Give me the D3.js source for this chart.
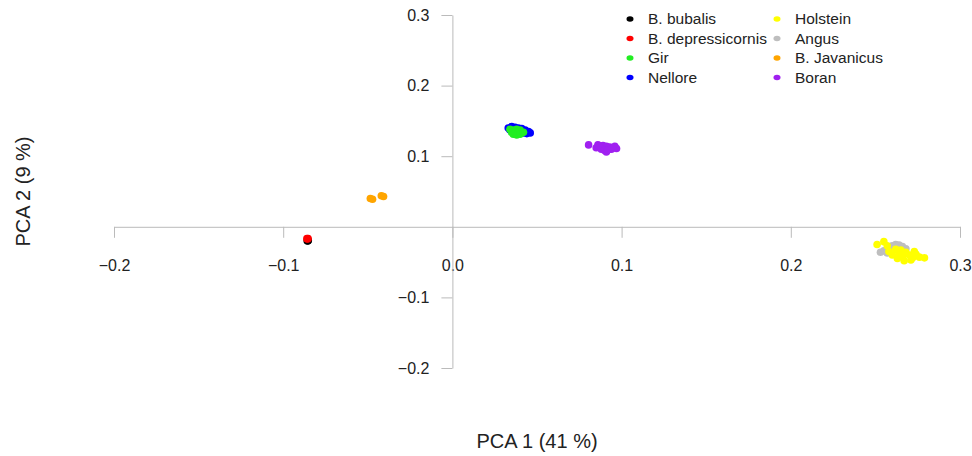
<!DOCTYPE html>
<html>
<head>
<meta charset="utf-8">
<script src="https://cdn.jsdelivr.net/npm/d3@7"></script>
<style>
  body { margin: 0; background: #fff; }
  text { font-family: "Liberation Sans", Arial, sans-serif; }
</style>
</head>
<body>
<svg id="chart"></svg>
<script>
// breeds in legend order
var breeds = ["B. bubalis", "B. depressicornis", "Gir", "Nellore", "Holstein", "Angus", "B. Javanicus", "Boran"];
var colors = ["#000000", "#ff0000", "#22ee22", "#0000ff", "#ffff00", "#bebebe", "#ffa500", "#a020f0"];

// PCA scores [pc1, pc2]
var bubalis = [[-0.0858, -0.0197], [-0.0855, -0.0202], [-0.0852, -0.0194]];
var depressicornis = [[-0.0860, -0.0168], [-0.0856, -0.0172], [-0.0853, -0.0166]];
var nellore = [[0.033, 0.140], [0.035, 0.142], [0.037, 0.141], [0.039, 0.140], [0.041, 0.139], [0.043, 0.137],
  [0.045, 0.135], [0.046, 0.133], [0.044, 0.132], [0.034, 0.137], [0.036, 0.135], [0.040, 0.134], [0.042, 0.133], [0.038, 0.132]];
var gir = [[0.034, 0.138], [0.036, 0.137], [0.038, 0.138], [0.040, 0.137], [0.035, 0.134], [0.037, 0.133],
  [0.039, 0.134], [0.041, 0.133], [0.036, 0.131], [0.038, 0.130], [0.040, 0.131], [0.042, 0.134]];
var angus = [[0.253, -0.036], [0.255, -0.034], [0.258, -0.030], [0.260, -0.027], [0.262, -0.025], [0.264, -0.026],
  [0.266, -0.028], [0.268, -0.031], [0.257, -0.037], [0.261, -0.033], [0.265, -0.034]];
var holstein = [[0.251, -0.025], [0.255, -0.021], [0.257, -0.027], [0.258, -0.035], [0.262, -0.032], [0.264, -0.038],
  [0.266, -0.042], [0.268, -0.036], [0.270, -0.040], [0.272, -0.044], [0.274, -0.039], [0.276, -0.043], [0.279, -0.044],
  [0.263, -0.045], [0.267, -0.048], [0.271, -0.047], [0.260, -0.040], [0.265, -0.033], [0.273, -0.035]];
var javanicus = [[-0.0485, 0.040], [-0.0472, 0.039], [-0.0420, 0.044], [-0.0407, 0.043]];
var boran = [[0.0805, 0.116], [0.085, 0.112], [0.087, 0.114], [0.089, 0.115], [0.091, 0.114], [0.093, 0.113],
  [0.095, 0.112], [0.097, 0.111], [0.088, 0.110], [0.090, 0.108], [0.092, 0.109], [0.094, 0.110], [0.091, 0.106],
  [0.096, 0.114], [0.086, 0.116]];

var xTicks = [-0.2, -0.1, 0.0, 0.1, 0.2, 0.3];
var yTicks = [-0.2, -0.1, 0.1, 0.2, 0.3];

var settings = { width: 972, height: 456 };

var svg = d3.select("#chart")
    .attr("width", settings.width)
    .attr("height", settings.height);

var x = d3.scaleLinear().domain([-0.2, 0.3]).range([114, 960]);
var y = d3.scaleLinear().domain([-0.2, 0.3]).range([368, 15]);

/* axes crossing at the origin */
var xAxis = svg.append("g")
    .attr("transform", "translate(0," + y(0) + ")")
    .call(d3.axisBottom(x).tickValues(xTicks).tickSize(11).tickSizeOuter(0).tickPadding(22)
        .tickFormat(d3.format(".1f")));

var yAxis = svg.append("g")
    .attr("transform", "translate(" + x(0) + ",0)")
    .call(d3.axisLeft(y).tickValues(yTicks).tickSize(11).tickSizeOuter(0).tickPadding(12)
        .tickFormat(d3.format(".1f")));

[xAxis, yAxis].forEach(function (a) {
    a.select(".domain").attr("stroke", "#bbbbbb");
    a.selectAll(".tick line").attr("stroke", "#bbbbbb");
    a.selectAll(".tick text")
        .attr("fill", "#222")
        .style("font-family", "'Liberation Sans', Arial, sans-serif")
        .style("font-size", "16px");
});

// points, drawn so that the colours overlap like in the picture
var layers = [
    [bubalis, 0], [depressicornis, 1], [nellore, 3], [gir, 2],
    [angus, 5], [holstein, 4], [javanicus, 6], [boran, 7]
];
layers.forEach(function (l) {
    svg.append("g")
        .selectAll("circle")
        .data(l[0])
        .enter()
        .append("circle")
        .attr("cx", function (d) { return x(d[0]); })
        .attr("cy", function (d) { return y(d[1]); })
        .attr("r", 3.8)
        .attr("fill", colors[l[1]]);
});

// axis titles
svg.append("text")
    .attr("x", (x(-0.2) + x(0.3)) / 2)
    .attr("y", 448)
    .attr("text-anchor", "middle")
    .attr("fill", "#222")
    .style("font-size", "20px")
    .text("PCA 1 (41 %)");

svg.append("text")
    .attr("transform", "translate(30," + (y(-0.2) + y(0.3)) / 2 + ") rotate(-90)")
    .attr("text-anchor", "middle")
    .attr("fill", "#222")
    .style("font-size", "20px")
    .text("PCA 2 (9 %)");

// legend, two columns of four
var legend = svg.append("g")
    .selectAll("g")
    .data(breeds)
    .enter()
    .append("g")
    .attr("transform", function (d, i) {
        var col = Math.floor(i / 4), row = i % 4;
        return "translate(" + (630 + col * 147) + "," + (19 + row * 19.5) + ")";
    });

legend.append("ellipse")
    .attr("rx", 3.5)
    .attr("ry", 2.8)
    .attr("fill", function (d, i) { return colors[i]; });

legend.append("text")
    .attr("x", 18)
    .attr("dy", "0.35em")
    .attr("fill", "#222")
    .style("font-size", "15.5px")
    .text(function (d) { return d; });
</script>
</body>
</html>
